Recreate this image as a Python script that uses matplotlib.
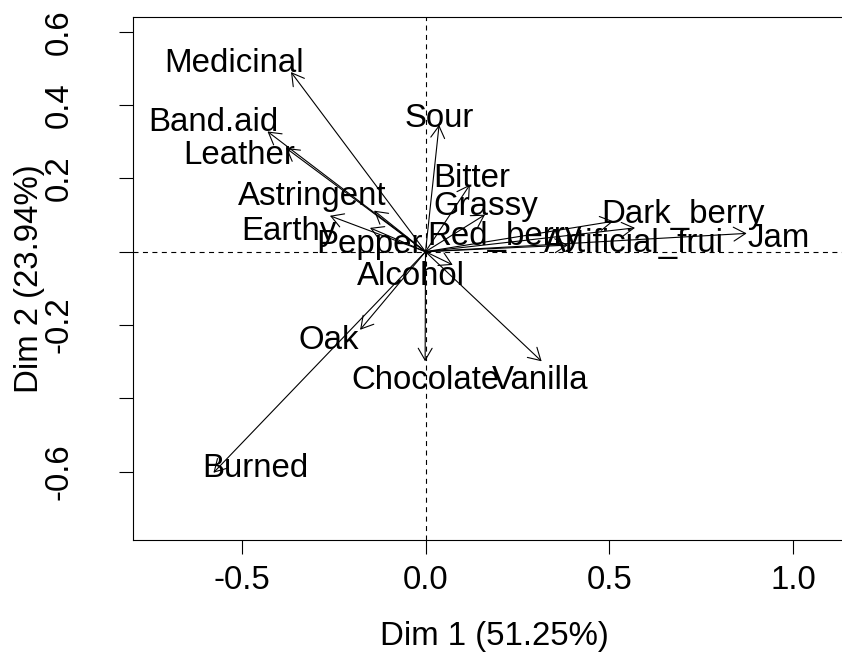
import matplotlib
matplotlib.use('Agg')
import matplotlib.pyplot as plt

# variable coordinates on the first two dimensions
variables = ['Medicinal', 'Band.aid', 'Leather', 'Astringent', 'Earthy', 'Pepper',
             'Sour', 'Bitter', 'Grassy', 'Red_berry', 'Dark_berry', 'Artificial_frui',
             'Jam', 'Alcohol', 'Oak', 'Chocolate', 'Vanilla', 'Burned']
dim1 = [-0.366, -0.430, -0.380, -0.140, -0.260, -0.151,
        0.037, 0.121, 0.162, 0.388, 0.511, 0.570,
        0.874, 0.074, -0.178, -0.001, 0.316, -0.577]
dim2 = [0.490, 0.328, 0.283, 0.112, 0.098, 0.065,
        0.346, 0.183, 0.101, 0.018, 0.083, 0.065,
        0.050, -0.036, -0.213, -0.299, -0.299, -0.603]

x_ticks = [-0.5, 0.0, 0.5, 1.0]
x_ticklabels = ['-0.5', '0.0', '0.5', '1.0']
y_ticks = [-0.6, -0.4, -0.2, 0.0, 0.2, 0.4, 0.6]
y_ticklabels = ['-0.6', '', '-0.2', '', '0.2', '0.4', '0.6']

# label placement (pixel offsets of label baseline centre from arrow tip)
label_offsets = {
    'Medicinal': (-57, 0), 'Band.aid': (-54, 0), 'Leather': (-47, -16),
    'Astringent': (-62, 6), 'Earthy': (-41, -24), 'Pepper': (-1, -25),
    'Sour': (0, -2), 'Bitter': (2, -2), 'Grassy': (1, 0),
    'Red_berry': (-64, 0), 'Dark_berry': (70, -2), 'Artificial_frui': (-1, -24),
    'Jam': (32, -14), 'Alcohol': (-42, -20), 'Oak': (-31, -19),
    'Chocolate': (0, -28), 'Vanilla': (-1, -28), 'Burned': (42, -4),
}

plt.rcParams['font.family'] = ['Liberation Sans', 'DejaVu Sans']
plt.rcParams['lines.scale_dashes'] = False
fs = 23.8

fig = plt.figure(figsize=(8.42, 6.64), dpi=100)
# plot box runs well past the right edge of the picture
ax = fig.add_axes([133 / 842, 124 / 664, (900 - 133) / 842, (540 - 17) / 664])
ax.set_xlim((133 - 425.5) / 367.5, (900 - 425.5) / 367.5)
ax.set_ylim(-(540 - 251.7) / 366.6, (251.7 - 17) / 366.6)
ax.set_frame_on(False)

# box: left, top and bottom sides only (right side is off the picture)
frame = dict(color='black', lw=0.8, transform=ax.transAxes, clip_on=False,
             solid_capstyle='projecting')
ax.plot([0, 0], [0, 1], **frame)
ax.plot([0, 1], [1, 1], **frame)
ax.plot([0, 1], [0, 0], **frame)

ax.axhline(0, color='black', lw=0.8, linestyle=(0, (3.6, 3.2)))
ax.axvline(0, color='black', lw=0.8, linestyle=(0, (3.6, 3.2)))

for name, x, y in zip(variables, dim1, dim2):
    ax.annotate('', xy=(x, y), xytext=(0, 0),
                arrowprops=dict(arrowstyle='->,head_length=0.43,head_width=0.25',
                                mutation_scale=20, lw=0.8, color='black',
                                shrinkA=0, shrinkB=0))
    dx, dy = label_offsets[name]
    ax.annotate(name, xy=(x, y), xytext=(dx, dy), textcoords='offset pixels',
                ha='center', va='baseline', fontsize=fs, color='black')

ax.set_xticks(x_ticks)
ax.set_xticklabels(x_ticklabels)
ax.set_yticks(y_ticks)
ax.set_yticklabels(y_ticklabels, rotation=90, va='center')
ax.tick_params(axis='both', labelsize=fs, length=10, width=0.8, direction='out')
ax.tick_params(axis='x', pad=8)
ax.tick_params(axis='y', pad=32)

ax.set_xlabel('Dim 1 (51.25%)', fontsize=fs)
ax.xaxis.set_label_coords((494 - 133) / (900 - 133), -0.155)
ax.set_ylabel('Dim 2 (23.94%)', fontsize=fs, labelpad=-1)

plt.savefig('out.png', dpi=100)
plt.close()
